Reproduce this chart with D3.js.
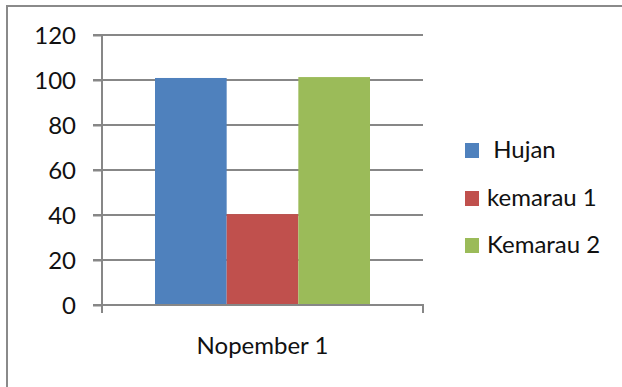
<!DOCTYPE html>
<html><head><meta charset="utf-8">
<script src="https://cdn.jsdelivr.net/npm/d3@7"></script>
<style>body{margin:0;background:#fff}svg{display:block}text{font-family:Lato,"Open Sans",sans-serif;fill:#111}</style>
</head><body>
<script>
const categories = ["Nopember 1"];
const seriesNames = ["Hujan", "kemarau 1", "Kemarau 2"];
const seriesLegendLabels = [" Hujan", "kemarau 1", "Kemarau 2"];
const seriesColors = ["#4F81BD", "#C0504D", "#9BBB59"];
const hujan = [100.9];
const kemarau1 = [40.4];
const kemarau2 = [101.3];
const yTicks = [0, 20, 40, 60, 80, 100, 120];

const W = 622, H = 387;
const svg = d3.select("body").append("svg").attr("width", W).attr("height", H);

// outer border
svg.append("rect").attr("x", 7).attr("y", 6).attr("width", W).attr("height", H)
  .attr("fill", "none").attr("stroke", "#8a8a8a").attr("stroke-width", 2);

const plot = {left: 102, right: 423, top: 35, bottom: 305};
const y = d3.scaleLinear().domain([0, 120]).range([plot.bottom, plot.top]);
const x0 = d3.scaleBand().domain(categories).range([plot.left, plot.right]).paddingInner(0).paddingOuter(0.2465);
const x1 = d3.scaleBand().domain(seriesNames).range([0, x0.bandwidth()]).padding(0);

const gray = "#878787";
// gridlines
svg.append("g").selectAll("line").data(yTicks.filter(d => d > 0)).join("line")
  .attr("x1", plot.left - 9).attr("x2", plot.right)
  .attr("y1", d => y(d)).attr("y2", d => y(d))
  .attr("stroke", gray).attr("stroke-width", 2);

// y axis
const yAxis = d3.axisLeft(y).tickValues(yTicks).tickSize(9).tickPadding(17);
const gy = svg.append("g").attr("transform", `translate(${plot.left},0)`).call(yAxis);
gy.select(".domain").remove();
gy.selectAll(".tick line").attr("stroke", gray).attr("stroke-width", 2);
gy.append("line").attr("x1", 0).attr("x2", 0).attr("y1", plot.top).attr("y2", plot.bottom + 8)
  .attr("stroke", gray).attr("stroke-width", 2);
gy.selectAll(".tick text").attr("font-size", 24).attr("fill", "#111")
  .style("font-family", "Lato, sans-serif").attr("dy", "0.36em");

// bars
const data = categories.map((c, i) => ({cat: c, vals: [hujan[i], kemarau1[i], kemarau2[i]]}));
const g = svg.append("g");
data.forEach(d => {
  g.selectAll(null).data(seriesNames.map((s, j) => ({s, v: d.vals[j], c: seriesColors[j]}))).join("rect")
    .attr("x", e => x0(d.cat) + x1(e.s)).attr("width", x1.bandwidth())
    .attr("y", e => y(e.v)).attr("height", e => plot.bottom - y(e.v))
    .attr("fill", e => e.c);
});

// x axis
svg.append("line").attr("x1", plot.left - 9).attr("x2", plot.right + 1)
  .attr("y1", plot.bottom).attr("y2", plot.bottom).attr("stroke", gray).attr("stroke-width", 2);
svg.append("line").attr("x1", plot.right).attr("x2", plot.right)
  .attr("y1", plot.bottom).attr("y2", plot.bottom + 8).attr("stroke", gray).attr("stroke-width", 2);
svg.append("g").selectAll("text").data(categories).join("text")
  .attr("x", d => x0(d) + x0.bandwidth() / 2).attr("y", 354)
  .attr("text-anchor", "middle").attr("font-size", 24).text(d => d);

// legend
const lg = svg.append("g");
const legendY = [150, 198, 245];
seriesNames.forEach((s, i) => {
  lg.append("rect").attr("x", 465).attr("y", legendY[i] - 7).attr("width", 14).attr("height", 15)
    .attr("fill", seriesColors[i]);
  lg.append("text").attr("x", 487).attr("y", legendY[i] + 8).attr("font-size", 24)
    .attr("xml:space", "preserve").style("white-space", "pre").text(seriesLegendLabels[i]);
});
</script>
</body></html>
